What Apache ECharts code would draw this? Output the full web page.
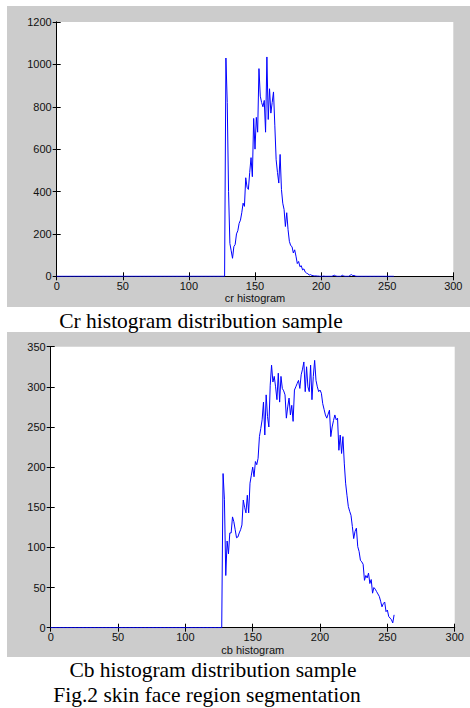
<!DOCTYPE html>
<html>
<head>
<meta charset="utf-8">
<title>Cr / Cb histogram</title>
<style>
  body { margin: 0; background: #fff; }
  #main { width: 470px; height: 708px; }
</style>
</head>
<body>
<div id="main"></div>
<script src="https://cdn.jsdelivr.net/npm/echarts@6/dist/echarts.min.js"></script>
<script>
// tick labels
var xTicks = [0, 50, 100, 150, 200, 250, 300];
var crTicks = [0, 200, 400, 600, 800, 1000, 1200];
var cbTicks = [0, 50, 100, 150, 200, 250, 300, 350];

// histogram bins 0..127 are empty in both pictures
var emptyBins = [
  0,0,0,0,0,0,0,0,0,0,0,0,0,0,0,0,0,0,0,0,0,0,0,0,0,0,0,0,0,0,0,0,
  0,0,0,0,0,0,0,0,0,0,0,0,0,0,0,0,0,0,0,0,0,0,0,0,0,0,0,0,0,0,0,0,
  0,0,0,0,0,0,0,0,0,0,0,0,0,0,0,0,0,0,0,0,0,0,0,0,0,0,0,0,0,0,0,0,
  0,0,0,0,0,0,0,0,0,0,0,0,0,0,0,0,0,0,0,0,0,0,0,0,0,0,0,0,0,0,0,0
];

// cr counts, bins 128..255
var crUpper = [
  1030, 820, 400, 155, 120, 85, 140, 150, 200, 215, 250, 265,
  300, 345, 330, 465, 420, 410, 490, 560, 470, 745, 600, 750,
  680, 980, 850, 820, 800, 830, 680, 1035, 740, 885, 770, 820,
  870, 710, 550, 490, 440, 575, 410, 345, 315, 235, 300, 220,
  165, 145, 140, 110, 125, 95, 60, 70, 45, 50, 30, 35,
  20, 15, 12, 6, 8, 4, 3, 2, 2, 1, 1, 0,
  0, 0, 1, 0, 0, 0, 0, 0, 0, 2, 5, 2,
  0, 0, 0, 0, 5, 2, 0, 0, 0, 0, 5, 8,
  3, 4, 1, 0, 0, 0, 0, 0, 0, 0, 0, 0,
  0, 0, 0, 0, 0, 0, 0, 0, 0, 0, 0, 0,
  0, 0, 0, 0, 0, 0, 0, 0
];

// cb counts, bins 128..255
var cbUpper = [
  192, 160, 65, 108, 92, 118, 118, 138, 132, 122, 112, 113,
  118, 122, 128, 159, 150, 143, 165, 143, 180, 190, 200, 188,
  207, 203, 211, 238, 248, 259, 281, 240, 290, 263, 250, 302,
  327, 306, 313, 300, 284, 317, 281, 313, 298, 295, 290, 261,
  275, 286, 265, 277, 257, 296, 300, 304, 308, 298, 315, 322,
  331, 294, 325, 300, 294, 327, 284, 313, 333, 308, 300, 294,
  296, 292, 279, 272, 265, 261, 266, 271, 238, 250, 258, 265,
  259, 261, 221, 240, 217, 238, 205, 180, 165, 151, 145, 140,
  126, 111, 120, 124, 101, 95, 84, 82, 79, 59, 65, 62,
  68, 55, 60, 43, 50, 48, 45, 42, 39, 33, 26, 30,
  32, 20, 22, 14, 12, 10, 6, 16
];

var crCounts = emptyBins.concat(crUpper);
var cbCounts = emptyBins.concat(cbUpper);

function toPoints(counts) {
  return counts.map(function (v, i) { return [i, v]; });
}

var labelFont = { color: '#111', fontSize: 11, fontFamily: 'Liberation Sans' };
var plain = function (v) { return String(v); };

function xAxes(grid, name, gap) {
  var base = {
    gridIndex: grid, type: 'value',
    min: xTicks[0], max: xTicks[xTicks.length - 1], interval: xTicks[1] - xTicks[0],
    axisLine: { lineStyle: { color: '#000', width: 1 } },
    axisTick: { inside: true, length: 4, lineStyle: { color: '#000' } },
    splitLine: { show: false }
  };
  return [
    Object.assign({}, base, {
      position: 'bottom',
      axisLabel: Object.assign({ margin: 4, formatter: plain }, labelFont),
      name: name, nameLocation: 'middle', nameGap: gap,
      nameTextStyle: labelFont
    }),
    Object.assign({}, base, { position: 'top', axisLabel: { show: false } })
  ];
}

function yAxes(grid, ticks) {
  var base = {
    gridIndex: grid, type: 'value',
    min: ticks[0], max: ticks[ticks.length - 1], interval: ticks[1] - ticks[0],
    axisLine: { show: true, lineStyle: { color: '#000', width: 1 } },
    axisTick: { show: true, inside: true, length: 4, lineStyle: { color: '#000' } },
    splitLine: { show: false }
  };
  return [
    Object.assign({}, base, { position: 'left', axisLabel: Object.assign({ margin: 5, formatter: plain }, labelFont) }),
    Object.assign({}, base, { position: 'right', axisLabel: { show: false } })
  ];
}

var myChart = echarts.init(document.getElementById('main'), null, { renderer: 'svg' });

var captionFont = '21.5px "Liberation Serif"';

var option = {
  backgroundColor: '#fff',
  animation: false,
  grid: [
    { left: 56.7, top: 22, width: 396.6, height: 254.3, show: true, backgroundColor: '#fff', borderWidth: 0 },
    { left: 50.7, top: 346.7, width: 404, height: 281, show: true, backgroundColor: '#fff', borderWidth: 0 }
  ],
  graphic: [
    { type: 'rect', z: -10, shape: { x: 7, y: 6, width: 463, height: 301 }, style: { fill: '#cccccc' } },
    { type: 'rect', z: -10, shape: { x: 7, y: 332, width: 463, height: 325 }, style: { fill: '#cccccc' } },
    { type: 'text', x: 201, y: 321, style: { text: 'Cr histogram distribution sample', fill: '#000',
      font: captionFont, textAlign: 'center', textVerticalAlign: 'middle' } },
    { type: 'text', x: 213, y: 670, style: { text: 'Cb histogram distribution sample', fill: '#000',
      font: captionFont, textAlign: 'center', textVerticalAlign: 'middle' } },
    { type: 'text', x: 207, y: 695, style: { text: 'Fig.2 skin face region segmentation', fill: '#000',
      font: captionFont, textAlign: 'center', textVerticalAlign: 'middle' } }
  ],
  xAxis: xAxes(0, 'cr histogram', 15).concat(xAxes(1, 'cb histogram', 17)),
  yAxis: yAxes(0, crTicks).concat(yAxes(1, cbTicks)),
  series: [
    {
      type: 'line', xAxisIndex: 0, yAxisIndex: 0, data: toPoints(crCounts),
      symbol: 'none', lineStyle: { color: '#0000ff', width: 1 }
    },
    {
      type: 'line', xAxisIndex: 2, yAxisIndex: 2, data: toPoints(cbCounts),
      symbol: 'none', lineStyle: { color: '#0000ff', width: 1 }
    }
  ]
};

myChart.setOption(option);
window.addEventListener('resize', function () {
  myChart.resize();
});
</script>
</body>
</html>
